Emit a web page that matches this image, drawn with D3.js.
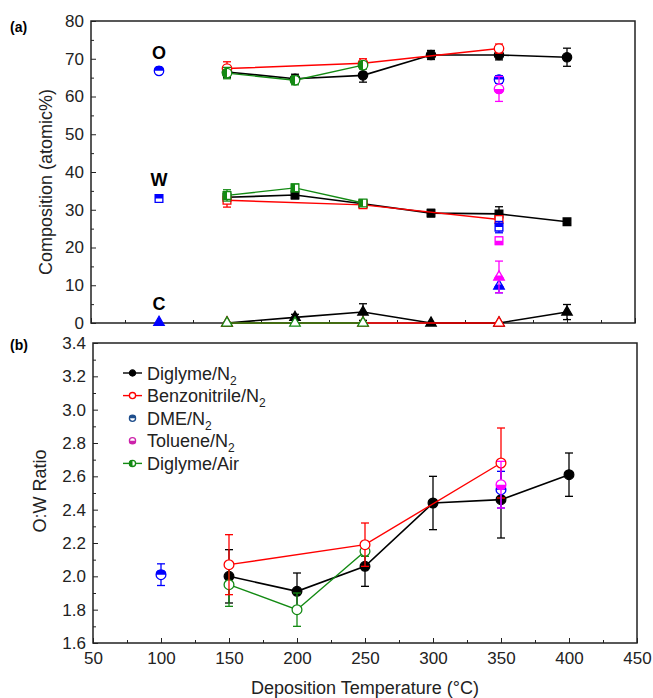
<!DOCTYPE html>
<html>
<head>
<meta charset="utf-8">
<script src="https://cdn.jsdelivr.net/npm/d3@7"></script>
<style>
body { margin: 0; background: #fff; }
text { font-family: "Liberation Sans", Arial, sans-serif; }
</style>
</head>
<body>
<div id="chart"></div>
<script>
// deposition temperatures of each precursor set
var tempDiglymeN2 = [150, 200, 250, 300, 350, 400];
var tempBenzonitrile = [150, 250, 350];
var tempDiglymeAir = [150, 200, 250];
var tempDME = [100, 350];
var tempToluene = [350];

// (a) composition, atomic %
var oDiglymeN2 = [66.5, 64.7, 65.6, 71.0, 71.0, 70.4];
var oErrDiglymeN2 = [1.5, 1.2, 1.8, 1.2, 1.3, 2.4];
var wDiglymeN2 = [33.3, 33.9, 31.6, 29.1, 28.9, 26.8];
var wErrDiglymeN2 = [1.2, 1.0, 1.0, 1.0, 1.9, 0.5];
var cDiglymeN2 = [0, 1.5, 2.9, 0, 0, 2.9];
var cErrDiglymeN2 = [0, 0.8, 2.2, 0, 0, 2.0];

var oBenzonitrile = [67.4, 68.8, 72.7];
var oErrBenzonitrile = [1.8, 1.2, 1.2];
var wBenzonitrile = [32.5, 31.3, 27.4];
var wErrBenzonitrile = [1.8, 0.8, 1.0];
var cBenzonitrile = [0, 0, 0];
var cErrBenzonitrile = [0, 0, 0];

var oDiglymeAir = [66.2, 64.3, 68.3];
var oErrDiglymeAir = [1.5, 1.2, 1.0];
var wDiglymeAir = [33.8, 35.8, 31.8];
var wErrDiglymeAir = [1.5, 1.0, 0.8];
var cDiglymeAir = [0, 0, 0];
var cErrDiglymeAir = [0, 0, 0];

var oDME = [66.8, 64.5];
var oErrDME = [0.5, 1.0];
var wDME = [33.0, 25.4];
var wErrDME = [0.6, 1.5];
var cDME = [0.2, 9.8];
var cErrDME = [0, 1.8];

var oToluene = [62.0];
var oErrToluene = [3.3];
var wToluene = [21.8];
var wErrToluene = [1.0];
var cToluene = [12.2];
var cErrToluene = [4.2];

// (b) O:W ratio
var ratioDiglymeN2 = [2.00, 1.91, 2.06, 2.44, 2.46, 2.61];
var ratioErrDiglymeN2 = [0.16, 0.11, 0.12, 0.16, 0.23, 0.13];
var ratioBenzonitrile = [2.07, 2.19, 2.68];
var ratioErrBenzonitrile = [0.18, 0.13, 0.21];
var ratioDiglymeAir = [1.95, 1.80, 2.15];
var ratioErrDiglymeAir = [0.13, 0.10, 0.03];
var ratioDME = [2.01, 2.52];
var ratioErrDME = [0.065, 0.11];
var ratioToluene = [2.55];
var ratioErrToluene = [0.14];

var legendNames = ["Diglyme/N", "Benzonitrile/N", "DME/N", "Toluene/N", "Diglyme/Air"];
var legendSub = ["2", "2", "2", "2", ""];

var xTicks = [50, 100, 150, 200, 250, 300, 350, 400, 450];

var width = 653, height = 698;
var svg = d3.select("#chart").append("svg")
	.attr("width", width)
	.attr("height", height);

var defs = svg.append("defs");
function halfClip(id, x, y, w, h) {
	defs.append("clipPath").attr("id", id)
		.attr("clipPathUnits", "objectBoundingBox")
		.append("rect").attr("x", x).attr("y", y).attr("width", w).attr("height", h);
}
halfClip("half-left", 0, 0, 0.5, 1);
halfClip("half-top", 0, 0, 1, 0.5);
halfClip("half-bottom", 0, 0.5, 1, 0.5);

var GREEN = "#138a13", BLUE = "#0000ff", MAGENTA = "#ff00ff", RED = "#ff0000", BLACK = "#000000";

// scales
var xA = d3.scaleLinear().domain([50, 450]).range([91, 635]);
var yA = d3.scaleLinear().domain([0, 80]).range([323, 21]);
var xB = d3.scaleLinear().domain([50, 450]).range([93, 637]);
var yB = d3.scaleLinear().domain([1.6, 3.4]).range([643, 343]);

function drawMarker(g, type, size, cx, cy, color, fill) {
	var d = d3.symbol().type(type).size(size)();
	var tr = "translate(" + cx + "," + cy + ")";
	if (fill == "solid") {
		g.append("path").attr("d", d).attr("transform", tr)
			.attr("fill", color).attr("stroke", color).attr("stroke-width", 1.2);
		return;
	}
	g.append("path").attr("d", d).attr("transform", tr)
		.attr("fill", "#fff").attr("stroke", color).attr("stroke-width", 1.3);
	if (fill != "open") {
		g.append("path").attr("d", d).attr("transform", tr)
			.attr("clip-path", "url(#" + fill + ")")
			.attr("fill", color).attr("stroke", color).attr("stroke-width", 1.3);
	}
}

function drawSeries(g, x, y, temps, vals, errs, color, type, size, fill, lw) {
	var pts = temps.map(function(t, i) { return {t: t, v: vals[i], e: errs[i]}; });
	if (pts.length > 1) {
		var line = d3.line()
			.x(function(d) { return x(d.t); })
			.y(function(d) { return y(d.v); });
		g.append("path").datum(pts)
			.attr("d", line)
			.attr("fill", "none")
			.attr("stroke", color)
			.attr("stroke-width", lw);
	}
	pts.forEach(function(d) {
		if (d.e > 0) {
			var px = x(d.t);
			g.append("line").attr("x1", px).attr("x2", px)
				.attr("y1", y(d.v - d.e)).attr("y2", y(d.v + d.e))
				.attr("stroke", color).attr("stroke-width", 1.3);
			[d.v - d.e, d.v + d.e].forEach(function(v) {
				g.append("line").attr("x1", px - 4).attr("x2", px + 4)
					.attr("y1", y(v)).attr("y2", y(v))
					.attr("stroke", color).attr("stroke-width", 1.3);
			});
		}
	});
	pts.forEach(function(d) {
		drawMarker(g, type, size, x(d.t), y(d.v), color, fill);
	});
}

function drawAxes(x, y, yTicks, yMinor, yFormat, showXLabels) {
	var g = svg.append("g");
	g.append("g")
		.attr("transform", "translate(" + x.range()[0] + ",0)")
		.call(d3.axisLeft(y).tickValues(yTicks).tickSize(-5).tickPadding(7).tickFormat(yFormat))
		.call(function(s) { s.select(".domain").remove(); });
	g.append("g")
		.attr("transform", "translate(" + x.range()[0] + ",0)")
		.call(d3.axisLeft(y).tickValues(yMinor).tickSize(-3).tickFormat(""))
		.call(function(s) { s.select(".domain").remove(); });
	g.append("g")
		.attr("transform", "translate(0," + y.range()[0] + ")")
		.call(d3.axisBottom(x).tickValues(xTicks).tickSize(-5).tickPadding(9)
			.tickFormat(showXLabels ? d3.format("d") : ""))
		.call(function(s) { s.select(".domain").remove(); });
	g.append("g")
		.attr("transform", "translate(0," + y.range()[0] + ")")
		.call(d3.axisBottom(x).tickValues(xTicks.slice(0, -1).map(function(t) { return t + 25; })).tickSize(-3).tickFormat(""))
		.call(function(s) { s.select(".domain").remove(); });
	g.selectAll(".tick text").attr("font-size", 17).attr("fill", "#222")
		.attr("font-family", "Liberation Sans, Arial, sans-serif");
	g.selectAll(".tick line").attr("stroke", "#222");
	svg.append("rect")
		.attr("x", x.range()[0]).attr("y", y.range()[1])
		.attr("width", x.range()[1] - x.range()[0])
		.attr("height", y.range()[0] - y.range()[1])
		.attr("fill", "none").attr("stroke", "#222").attr("stroke-width", 1.5);
}

// ---------- panel (a) ----------
drawAxes(xA, yA, d3.range(0, 81, 10), d3.range(5, 80, 10), d3.format("d"), false);

var ga = svg.append("g");
var circ = d3.symbolCircle, sq = d3.symbolSquare, tri = d3.symbolTriangle;
var cs = 70, ss = 60, ts = 48;

drawSeries(ga, xA, yA, tempDiglymeN2, oDiglymeN2, oErrDiglymeN2, BLACK, circ, cs, "solid", 1.6);
drawSeries(ga, xA, yA, tempDiglymeN2, wDiglymeN2, wErrDiglymeN2, BLACK, sq, ss, "solid", 1.6);
drawSeries(ga, xA, yA, tempDiglymeN2, cDiglymeN2, cErrDiglymeN2, BLACK, tri, ts, "solid", 1.6);

drawSeries(ga, xA, yA, tempBenzonitrile, oBenzonitrile, oErrBenzonitrile, RED, circ, cs, "open", 1.4);
drawSeries(ga, xA, yA, tempBenzonitrile, wBenzonitrile, wErrBenzonitrile, RED, sq, ss, "open", 1.4);
drawSeries(ga, xA, yA, tempBenzonitrile, cBenzonitrile, cErrBenzonitrile, RED, tri, ts, "open", 1.4);

drawSeries(ga, xA, yA, tempDiglymeAir, oDiglymeAir, oErrDiglymeAir, GREEN, circ, cs, "half-left", 1.4);
drawSeries(ga, xA, yA, tempDiglymeAir, wDiglymeAir, wErrDiglymeAir, GREEN, sq, ss, "half-left", 1.4);
drawSeries(ga, xA, yA, tempDiglymeAir, cDiglymeAir, cErrDiglymeAir, GREEN, tri, ts, "open", 1.4);

// separate points, no joining line
[[tempDME, oDME, oErrDME, circ, cs], [tempDME, wDME, wErrDME, sq, ss]].forEach(function(s) {
	s[0].forEach(function(t, i) {
		drawSeries(ga, xA, yA, [t], [s[1][i]], [s[2][i]], BLUE, s[3], s[4], "half-top", 1.4);
	});
});
drawSeries(ga, xA, yA, [tempDME[0]], [cDME[0]], [cErrDME[0]], BLUE, tri, ts, "solid", 1.4);
drawSeries(ga, xA, yA, [tempDME[1]], [cDME[1]], [cErrDME[1]], BLUE, tri, ts, "half-bottom", 1.4);

drawSeries(ga, xA, yA, tempToluene, oToluene, oErrToluene, MAGENTA, circ, cs, "half-bottom", 1.4);
drawSeries(ga, xA, yA, tempToluene, wToluene, wErrToluene, MAGENTA, sq, ss, "half-bottom", 1.4);
drawSeries(ga, xA, yA, tempToluene, cToluene, cErrToluene, MAGENTA, tri, ts, "half-bottom", 1.4);

// element labels
[["O", 66.8], ["W", 33.0], ["C", 0.2]].forEach(function(l) {
	svg.append("text")
		.attr("x", xA(100)).attr("y", yA(l[1]) - 12)
		.attr("text-anchor", "middle")
		.attr("font-size", 18).attr("font-weight", "bold")
		.text(l[0]);
});

svg.append("text").attr("x", 10).attr("y", 32)
	.attr("font-size", 14).attr("font-weight", "bold").text("(a)");

svg.append("text")
	.attr("transform", "translate(52,182) rotate(-90)")
	.attr("text-anchor", "middle")
	.attr("font-size", 18).attr("fill", "#222")
	.text("Composition (atomic%)");

// ---------- panel (b) ----------
drawAxes(xB, yB, d3.range(1.6, 3.41, 0.2), d3.range(1.7, 3.4, 0.2), d3.format(".1f"), true);

var gb = svg.append("g");
var bs = 75;
drawSeries(gb, xB, yB, tempDiglymeN2, ratioDiglymeN2, ratioErrDiglymeN2, BLACK, circ, bs, "solid", 1.6);
drawSeries(gb, xB, yB, tempDiglymeAir, ratioDiglymeAir, ratioErrDiglymeAir, GREEN, circ, bs, "open", 1.4);
drawSeries(gb, xB, yB, tempBenzonitrile, ratioBenzonitrile, ratioErrBenzonitrile, RED, circ, bs, "open", 1.4);
tempDME.forEach(function(t, i) {
	drawSeries(gb, xB, yB, [t], [ratioDME[i]], [ratioErrDME[i]], BLUE, circ, bs, "half-top", 1.4);
});
drawSeries(gb, xB, yB, tempToluene, ratioToluene, ratioErrToluene, MAGENTA, circ, bs, "half-bottom", 1.4);

// legend
var legColors = [BLACK, RED, "#1f4e8c", "#cc22aa", GREEN];
var legFill = ["solid", "open", "half-top", "half-bottom", "half-left"];
var legLine = [true, true, false, false, true];
var leg = svg.append("g");
legendNames.forEach(function(n, i) {
	var ly = 373 + i * 22.6;
	if (legLine[i]) {
		leg.append("line").attr("x1", 123).attr("x2", 142).attr("y1", ly).attr("y2", ly)
			.attr("stroke", legColors[i]).attr("stroke-width", 1.4);
	}
	drawMarker(leg, circ, 30, 132.5, ly, legColors[i], legFill[i]);
	var t = leg.append("text").attr("x", 147).attr("y", ly + 6.5)
		.attr("font-size", 18).attr("fill", "#222").text(n);
	if (legendSub[i]) {
		t.append("tspan").attr("font-size", 12).attr("dy", 5).text(legendSub[i]);
	}
});

svg.append("text").attr("x", 10).attr("y", 350)
	.attr("font-size", 14).attr("font-weight", "bold").text("(b)");

svg.append("text")
	.attr("transform", "translate(46,491) rotate(-90)")
	.attr("text-anchor", "middle")
	.attr("font-size", 18).attr("fill", "#222")
	.text("O:W Ratio");

svg.append("text")
	.attr("x", 365).attr("y", 694)
	.attr("text-anchor", "middle")
	.attr("font-size", 18).attr("fill", "#222")
	.text("Deposition Temperature (°C)");
</script>
</body>
</html>
